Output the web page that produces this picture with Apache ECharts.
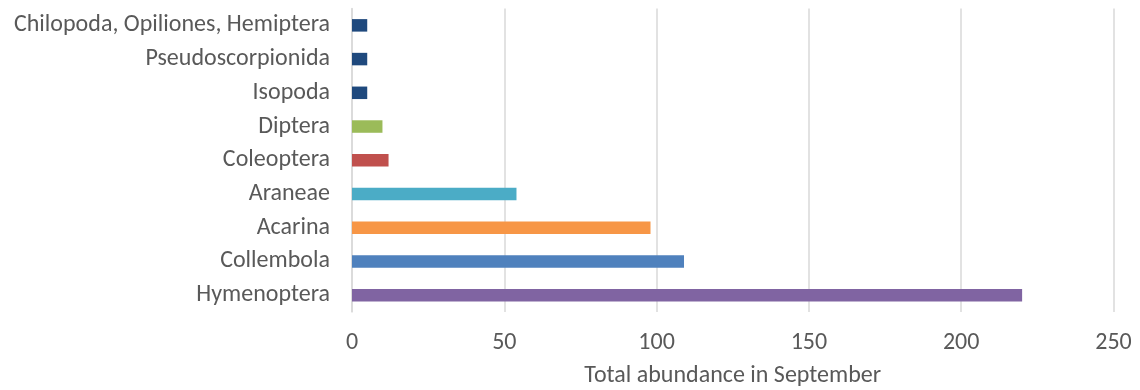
<!DOCTYPE html>
<html>
<head>
<meta charset="utf-8">
<script src="https://cdn.jsdelivr.net/npm/echarts@6/dist/echarts.min.js"></script>
<style>html,body{margin:0;padding:0;background:#fff}#c{width:1140px;height:390px}</style>
</head>
<body>
<div id="c"></div>
<script>
const categories = ["Hymenoptera","Collembola","Acarina","Araneae","Coleoptera","Diptera","Isopoda","Pseudoscorpionida","Chilopoda, Opiliones, Hemiptera"];
const values = [220, 109, 98, 54, 12, 10, 5, 5, 5];
const xTicks = [0, 50, 100, 150, 200, 250];
const barColors = ["#8064A2","#4F81BD","#F79646","#4BACC6","#C0504D","#9BBB59","#1F497D","#1F497D","#1F497D"];
const axisTitle = "Total abundance in September";

const font = "Carlito, Lato, sans-serif";
const fs = 24;
const chart = echarts.init(document.getElementById('c'), null, {renderer: 'canvas'});
chart.setOption({
  animation: false,
  grid: {left: 352, right: 26.5, top: 8.5, bottom: 78, containLabel: false, outerBoundsMode: 'none'},
  xAxis: {
    type: 'value', min: xTicks[0], max: xTicks[xTicks.length-1], interval: xTicks[1]-xTicks[0],
    axisLine: {show: false}, axisTick: {show: false},
    splitLine: {show: true, lineStyle: {color: '#d9d9d9', width: 1.5}},
    axisLabel: {color: '#595959', fontSize: fs, fontFamily: font, margin: 19},
    name: axisTitle, nameLocation: 'middle', nameGap: 52,
    nameTextStyle: {color: '#595959', fontSize: fs, fontFamily: font}
  },
  yAxis: {
    type: 'category', data: categories,
    axisLine: {show: true, lineStyle: {color: '#d9d9d9', width: 1.5}},
    axisTick: {show: false},
    axisLabel: {color: '#595959', fontSize: fs, fontFamily: font, margin: 22}
  },
  series: [{
    type: 'bar', barWidth: 12.5,
    data: values.map((v, i) => ({value: v, itemStyle: {color: barColors[i]}}))
  }]
});
</script>
</body>
</html>
